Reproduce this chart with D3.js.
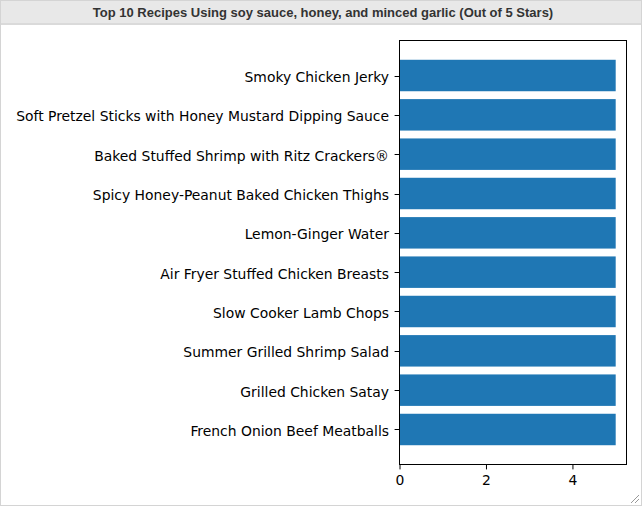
<!DOCTYPE html>
<html><head><meta charset="utf-8">
<script src="https://cdn.jsdelivr.net/npm/d3@7"></script>
<style>body{margin:0;background:#fff;}svg{display:block;}</style>
</head><body>
<script>
const categories = [
  "Smoky Chicken Jerky",
  "Soft Pretzel Sticks with Honey Mustard Dipping Sauce",
  "Baked Stuffed Shrimp with Ritz Crackers®",
  "Spicy Honey-Peanut Baked Chicken Thighs",
  "Lemon-Ginger Water",
  "Air Fryer Stuffed Chicken Breasts",
  "Slow Cooker Lamb Chops",
  "Summer Grilled Shrimp Salad",
  "Grilled Chicken Satay",
  "French Onion Beef Meatballs"
];
const ratings = [5, 5, 5, 5, 5, 5, 5, 5, 5, 5];
const xTicks = [0, 2, 4];
const title = "Top 10 Recipes Using soy sauce, honey, and minced garlic (Out of 5 Stars)";

const W = 642, H = 506;
const svg = d3.select("body").append("svg").attr("width", W).attr("height", H);

svg.append("rect").attr("x",0.5).attr("y",0.5).attr("width",W-1).attr("height",H-1)
  .attr("fill","#fff").attr("stroke","#d4d4d4");
svg.append("rect").attr("x",1).attr("y",1).attr("width",W-2).attr("height",22).attr("fill","#e8e8e8");
svg.append("rect").attr("x",1).attr("y",23).attr("width",W-2).attr("height",2).attr("fill","#dadada");
svg.append("text").attr("x",W/2 + 2).attr("y",17).attr("text-anchor","middle")
  .attr("font-family","'Liberation Sans', Arial, sans-serif").attr("font-weight","bold")
  .attr("font-size","13px").attr("fill","#333").text(title);
[[631,503,639,495],[635,503,639,499]].forEach(p=>{
  svg.append("line").attr("x1",p[0]).attr("y1",p[1]).attr("x2",p[2]).attr("y2",p[3])
    .attr("stroke","#999").attr("stroke-width",1);
});

const L = 399.5, R = 626.5, T = 40.5, B = 464.5;
const x = d3.scaleLinear().domain([0, 5.25]).range([L, R]);
const n = categories.length;
const y = d3.scaleLinear().domain([n - 1 + 0.89, -0.89]).range([B, T]);
const yPos = i => y(i);

const g = svg.append("g");
g.selectAll("rect.bar").data(categories).join("rect").attr("class","bar")
  .attr("x", x(0) - 0.5)
  .attr("y", (d,i) => yPos(i) - (y(0.4) - y(0)))
  .attr("width", (d,i) => x(ratings[i]) - x(0) + 0.5)
  .attr("height", (d,i) => 2*(y(0.4) - y(0)))
  .attr("fill", "#1f77b4");

g.append("rect").attr("x",L).attr("y",T).attr("width",R-L).attr("height",B-T)
  .attr("fill","none").attr("stroke","#000").attr("stroke-width",1);

const font = "'DejaVu Sans', sans-serif";
const fs = "13.9px";
categories.forEach((c,i) => {
  const yy = Math.round(yPos(i)) + 0.5;
  g.append("line").attr("x1",L-4.9).attr("x2",L).attr("y1",yy).attr("y2",yy).attr("stroke","#000");
  g.append("text").attr("x",L-10.5).attr("y",yPos(i)).attr("dy","0.46em")
    .attr("text-anchor","end").attr("font-family",font).attr("font-size",fs)
    .attr("fill","#000").text(c);
});
const xAxis = d3.axisBottom(x).tickValues(xTicks).tickSize(4.9).tickPadding(6.2).tickFormat(d3.format("d"));
const ax = svg.append("g").attr("transform",`translate(0,${B})`).call(xAxis);
ax.select(".domain").remove();
ax.selectAll("text").attr("font-family",font).attr("font-size",fs).attr("fill","#000");
ax.selectAll("line").attr("stroke","#000");
</script>
</body></html>
